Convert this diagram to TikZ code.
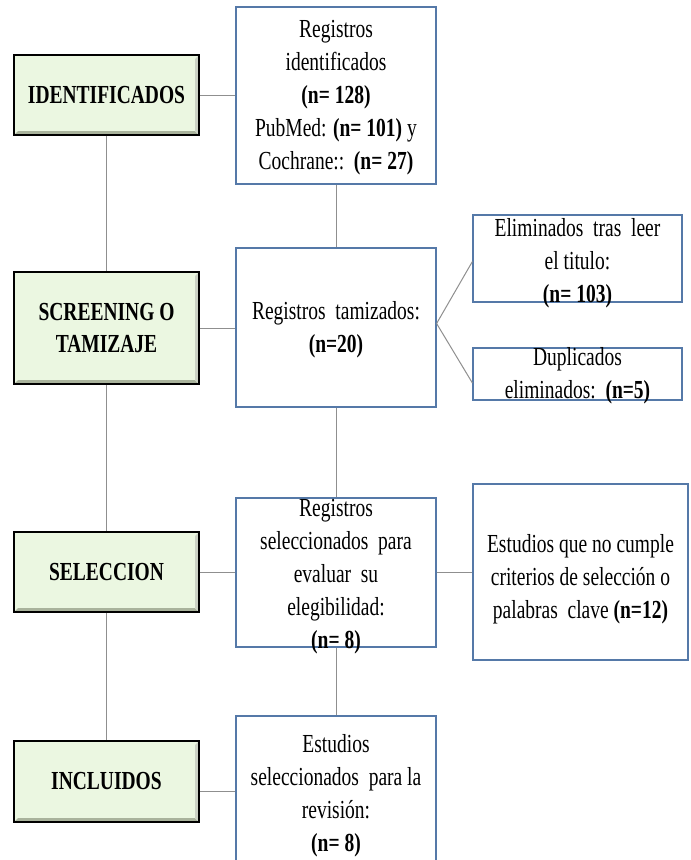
\documentclass[tikz,border=0pt]{standalone}
\usepackage{fontspec}
\setmainfont{Liberation Serif}[FakeStretch=0.75]
\definecolor{StageGreen}{HTML}{EBF7E1}
\definecolor{StageShade}{HTML}{A9B39C}
\definecolor{BoxBlue}{HTML}{5579A8}
\definecolor{LinkGray}{HTML}{8F8F8F}
\usetikzlibrary{positioning}

\begin{document}
\begin{tikzpicture}[x=1pt, y=-1pt,
        stage/.style={draw=black, line width=1.5pt, fill=StageGreen, minimum width=185pt, align=center, inner sep=0pt, font=\fontsize{26}{32}\selectfont\bfseries,
            path picture={\fill[StageShade] (path picture bounding box.south west) -- (path picture bounding box.south east) -- ([xshift=-4pt,yshift=4pt]path picture bounding box.south east) -- ([xshift=4pt,yshift=4pt]path picture bounding box.south west) -- cycle;
                \fill[StageShade!60] (path picture bounding box.north east) -- (path picture bounding box.south east) -- ([xshift=-4pt,yshift=4pt]path picture bounding box.south east) -- ([xshift=-4pt,yshift=-4pt]path picture bounding box.north east) -- cycle;}},
        frame/.style={draw=BoxBlue, line width=1.2pt, fill=white, inner sep=0pt},
        txt/.style={align=center, inner sep=0pt, font=\fontsize{26}{33}\selectfont},
        link/.style={draw=LinkGray, line width=1pt}
    ]
        \useasboundingbox (0,0) rectangle (691,860);
        \node[stage, minimum height=80pt]  (ident)  at (106.5,95)    {IDENTIFICADOS};
        \node[stage, minimum height=112pt] (screen) at (106.5,328)   {SCREENING O\\TAMIZAJE};
        \node[stage, minimum height=80pt]  (selec)  at (106.5,572)   {SELECCION};
        \node[stage, minimum height=81pt]  (incl)   at (106.5,781.5) {INCLUIDOS};
        \node[frame, minimum width=200pt, minimum height=177pt] (reg)   at (336,95.5)  {};
        \node[frame, minimum width=200pt, minimum height=159pt] (tam)   at (336,327.5) {};
        \node[frame, minimum width=209pt, minimum height=87pt]  (elim)  at (577.5,258.5) {};
        \node[frame, minimum width=209pt, minimum height=52pt]  (dup)   at (577.5,374) {};
        \node[frame, minimum width=200pt, minimum height=149pt] (sel)   at (336,572.5) {};
        \node[frame, minimum width=215pt, minimum height=176pt] (estud) at (580.5,572) {};
        \node[frame, minimum width=200pt, minimum height=160pt] (rev)   at (336,796)   {};
        \node[txt] (reg-t)   at (336,98)    {Registros\\identificados\\\textbf{(n= 128)}\\PubMed: \textbf{(n= 101)} y\\Cochrane::\ \ \textbf{(n= 27)}};
        \node[txt] (tam-t)   at (336,330)   {Registros\ \ tamizados:\\\textbf{(n=20)}};
        \node[txt] (elim-t)  at (577.5,263) {Eliminados\ \ tras\ \ leer\\el titulo:\\\textbf{(n= 103)}};
        \node[txt] (dup-t)   at (577.5,376) {Duplicados\\eliminados:\ \ \textbf{(n=5)}};
        \node[txt] (sel-t)   at (336,577)   {Registros\\seleccionados\ \ para\\evaluar\ \ su\\elegibilidad:\\\textbf{(n= 8)}};
        \node[txt] (estud-t) at (580.5,579) {Estudios que no cumple\\criterios de selección o\\palabras\ \ clave \textbf{(n=12)}};
        \node[txt] (rev-t)   at (336,796)   {Estudios\\seleccionados\ \ para la\\revisión:\\\textbf{(n= 8)}};
        \draw[link] (ident) -- (screen); \draw[link] (screen) -- (selec); \draw[link] (selec) -- (incl);
        \draw[link] (ident.east) -- (ident.east -| reg.west);
        \draw[link] (screen.east) -- (screen.east -| tam.west);
        \draw[link] (selec.east) -- (selec.east -| sel.west);
        \draw[link] ([yshift=5pt]rev.west) -- ([yshift=5pt]rev.west -| incl.east);
        \draw[link] (reg) -- (tam); \draw[link] (tam) -- (sel); \draw[link] (sel) -- (rev);
        \draw[link] ([yshift=4pt]tam.east) -- ([yshift=-3pt]elim.west);
        \draw[link] ([yshift=4pt]tam.east) -- ([yshift=-9pt]dup.west);
        \draw[link] (sel.east) -- (sel.east -| estud.west);
    \end{tikzpicture}
\end{document}
